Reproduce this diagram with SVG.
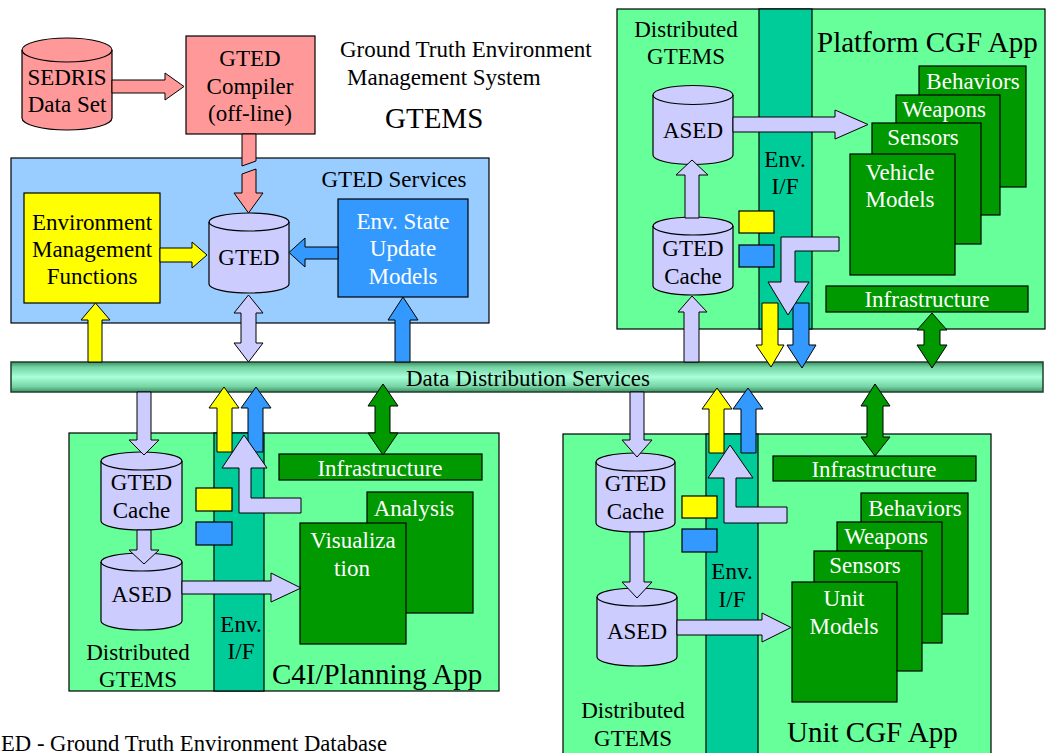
<svg xmlns="http://www.w3.org/2000/svg" width="1047" height="753" viewBox="0 0 1047 753" font-family="Liberation Serif, serif">
<defs>
<style>
.t{font-size:23px;text-anchor:middle;fill:#000}
.w{fill:#fff}
.big{font-size:29px;text-anchor:start}
.st{text-anchor:start}
.s{stroke:#000;stroke-width:1.2}
.pink{fill:#ff9999}
.lblue{fill:#99ccff}
.yel{fill:#ffff00}
.lav{fill:#ccccff}
.blu{fill:#3399ff}
.lgr{fill:#66ff99}
.teal{fill:#00cc99}
.grn{fill:#009900}
.none{fill:none}
</style>
<linearGradient id="barg" x1="0" y1="0" x2="0" y2="1">
<stop offset="0" stop-color="#3f8f65"/>
<stop offset="0.18" stop-color="#74d4a4"/>
<stop offset="0.5" stop-color="#a8ffd8"/>
<stop offset="0.82" stop-color="#74d4a4"/>
<stop offset="1" stop-color="#3f8f65"/>
</linearGradient>
</defs>
<rect x="0" y="0" width="1047" height="753" fill="#fff"/>

<g id="title">
<text class="t st" x="340" y="57">Ground Truth Environment</text>
<text class="t st" x="347" y="85">Management System</text>
<text class="t big" x="385" y="128">GTEMS</text>
</g>
<g id="footnote">
<text class="t st" x="1" y="751" textLength="386" lengthAdjust="spacingAndGlyphs">ED - Ground Truth Environment Database</text>
</g>

<g id="gted-services">
<rect class="lblue s" x="11" y="158" width="478" height="165"/>
<text class="t" x="394" y="187">GTED Services</text>
</g>

<g id="platform-app">
<rect class="lgr s" x="617" y="9" width="428" height="320"/>
<rect class="teal s" x="759" y="9" width="53" height="320"/>
<text class="t" x="686" y="37">Distributed</text>
<text class="t" x="686" y="64">GTEMS</text>
<text class="t" x="785" y="167">Env.</text>
<text class="t" x="785" y="194">I/F</text>
<text class="t big" x="817" y="52">Platform CGF App</text>
</g>

<g id="c4i-app">
<rect class="lgr s" x="69" y="433" width="430" height="258"/>
<rect class="teal s" x="214" y="433" width="50" height="258"/>
<text class="t" x="138" y="660">Distributed</text>
<text class="t" x="138" y="687">GTEMS</text>
<text class="t" x="241" y="632">Env.</text>
<text class="t" x="241" y="659">I/F</text>
<text class="t big" x="272" y="684">C4I/Planning App</text>
</g>

<g id="unit-app">
<rect class="lgr s" x="563" y="434" width="428" height="330"/>
<rect class="teal s" x="706" y="434" width="52" height="330"/>
<text class="t" x="633" y="718">Distributed</text>
<text class="t" x="633" y="746">GTEMS</text>
<text class="t" x="732" y="579">Env.</text>
<text class="t" x="732" y="607">I/F</text>
<text class="t big" x="787" y="742">Unit CGF App</text>
</g>

<g id="dds-bar">
<rect x="11" y="362" width="1032" height="30" fill="url(#barg)" stroke="#1f3f2a" stroke-width="1.5"/>
<text class="t" x="528" y="386">Data Distribution Services</text>
</g>

<g id="sedris">
<path class="pink s" d="M22,50 A45,12 0 0 1 112,50 L112,118 A45,12 0 0 1 22,118 Z"/>
<path class="none s" d="M22,50 A45,12 0 0 0 112,50"/>
<text class="t" x="67" y="85">SEDRIS</text>
<text class="t" x="67" y="112">Data Set</text>
</g>

<g id="gted-compiler">
<rect class="pink s" x="186" y="36" width="129" height="98"/>
<text class="t" x="250" y="66">GTED</text>
<text class="t" x="250" y="94">Compiler</text>
<text class="t" x="250" y="121">(off-line)</text>
</g>

<g id="env-mgmt">
<rect class="yel s" x="24" y="193" width="136" height="110"/>
<text class="t" x="92" y="230">Environment</text>
<text class="t" x="92" y="257">Management</text>
<text class="t" x="92" y="284">Functions</text>
</g>

<g id="gted">
<path class="lav s" d="M209,222 A40,9 0 0 1 289,222 L289,284 A40,9 0 0 1 209,284 Z"/>
<path class="none s" d="M209,222 A40,9 0 0 0 289,222"/>
<text class="t" x="249" y="265">GTED</text>
</g>

<g id="env-state">
<rect class="blu s" x="338" y="199" width="130" height="98"/>
<text class="t w" x="403" y="229">Env. State</text>
<text class="t w" x="403" y="256">Update</text>
<text class="t w" x="403" y="284">Models</text>
</g>

<g id="p-ased">
<path class="lav s" d="M653,95 A40,9.5 0 0 1 733,95 L733,155 A40,9.5 0 0 1 653,155 Z"/>
<path class="none s" d="M653,95 A40,9.5 0 0 0 733,95"/>
<text class="t" x="693" y="138">ASED</text>
</g>
<g id="p-cache">
<path class="lav s" d="M653,226 A40,9 0 0 1 733,226 L733,286 A40,9 0 0 1 653,286 Z"/>
<path class="none s" d="M653,226 A40,9 0 0 0 733,226"/>
<text class="t" x="693" y="256">GTED</text>
<text class="t" x="693" y="284">Cache</text>
</g>
<g id="p-yellow"><rect class="yel s" x="739" y="211" width="35" height="22"/></g>
<g id="p-blue"><rect class="blu s" x="739" y="245" width="35" height="22"/></g>
<g id="p-behaviors">
<rect class="grn s" x="919" y="66" width="107" height="121"/>
<text class="t w" x="973" y="89">Behaviors</text>
</g>
<g id="p-weapons">
<rect class="grn s" x="896" y="95" width="104" height="120"/>
<text class="t w" x="944" y="117">Weapons</text>
</g>
<g id="p-sensors">
<rect class="grn s" x="872" y="123" width="109" height="121"/>
<text class="t w" x="923" y="145">Sensors</text>
</g>
<g id="p-vehicle">
<rect class="grn s" x="850" y="154" width="105" height="121"/>
<text class="t w" x="900" y="180">Vehicle</text>
<text class="t w" x="900" y="207">Models</text>
</g>
<g id="p-infra">
<rect class="grn s" x="826" y="286" width="202" height="26"/>
<text class="t w" x="927" y="307">Infrastructure</text>
</g>

<g id="c-cache">
<path class="lav s" d="M101,461 A40.5,9 0 0 1 182,461 L182,521 A40.5,9 0 0 1 101,521 Z"/>
<path class="none s" d="M101,461 A40.5,9 0 0 0 182,461"/>
<text class="t" x="141.5" y="490">GTED</text>
<text class="t" x="141.5" y="518">Cache</text>
</g>
<g id="c-ased">
<path class="lav s" d="M101,562 A40.5,9 0 0 1 182,562 L182,621 A40.5,9 0 0 1 101,621 Z"/>
<path class="none s" d="M101,562 A40.5,9 0 0 0 182,562"/>
<text class="t" x="141.5" y="602">ASED</text>
</g>
<g id="c-yellow"><rect class="yel s" x="196" y="488" width="36" height="23"/></g>
<g id="c-blue"><rect class="blu s" x="196" y="522" width="36" height="23"/></g>
<g id="c-infra">
<rect class="grn s" x="279" y="454" width="203" height="26"/>
<text class="t w" x="380" y="476">Infrastructure</text>
</g>
<g id="c-analysis">
<rect class="grn s" x="367" y="492" width="106" height="121"/>
<text class="t w" x="414" y="516">Analysis</text>
</g>
<g id="c-visualization">
<rect class="grn s" x="300" y="523" width="106" height="121"/>
<text class="t w" x="353" y="548">Visualiza</text>
<text class="t w" x="352" y="576">tion</text>
</g>

<g id="u-cache">
<path class="lav s" d="M596,462 A39.5,9 0 0 1 675,462 L675,523 A39.5,9 0 0 1 596,523 Z"/>
<path class="none s" d="M596,462 A39.5,9 0 0 0 675,462"/>
<text class="t" x="635.5" y="491">GTED</text>
<text class="t" x="635.5" y="519">Cache</text>
</g>
<g id="u-ased">
<path class="lav s" d="M597,597 A40,9 0 0 1 677,597 L677,657 A40,9 0 0 1 597,657 Z"/>
<path class="none s" d="M597,597 A40,9 0 0 0 677,597"/>
<text class="t" x="637" y="639">ASED</text>
</g>
<g id="u-yellow"><rect class="yel s" x="682" y="496" width="35" height="22"/></g>
<g id="u-blue"><rect class="blu s" x="682" y="529" width="35" height="23"/></g>
<g id="u-infra">
<rect class="grn s" x="773" y="456" width="203" height="25"/>
<text class="t w" x="874" y="477">Infrastructure</text>
</g>
<g id="u-behaviors">
<rect class="grn s" x="861" y="493" width="107" height="121"/>
<text class="t w" x="915" y="516">Behaviors</text>
</g>
<g id="u-weapons">
<rect class="grn s" x="837" y="522" width="105" height="121"/>
<text class="t w" x="886" y="544">Weapons</text>
</g>
<g id="u-sensors">
<rect class="grn s" x="814" y="551" width="108" height="120"/>
<text class="t w" x="865" y="573">Sensors</text>
</g>
<g id="u-unit">
<rect class="grn s" x="792" y="582" width="105" height="120"/>
<text class="t w" x="844" y="606">Unit</text>
<text class="t w" x="844" y="634">Models</text>
</g>

<g id="connectors" stroke="#000" stroke-width="1" stroke-linejoin="miter">
<polygon class="pink" points="112,80 165,80 165,73 184,86.5 165,100 165,93 112,93"/>
<polygon class="pink" points="242,134 256,134 256,161 242,166"/>
<polygon class="pink" points="242,174 256,169 256,193 263,193 248.5,213 234,193 242,193"/>
<polygon class="yel" points="160,248 192,248 192,242 207,255 192,268 192,262 160,262"/>
<polygon class="blu" points="338,247 305,247 305,238 289,252.5 305,267 305,259 338,259"/>
<polygon class="lav" points="248.5,295 263,313 256,313 256,343 263,343 248.5,362 234,343 241,343 241,313 234,313"/>
<polygon class="yel" points="88,362 88,320 81,320 95.5,303 110,320 102,320 102,362"/>
<polygon class="blu" points="395,362 395,320 388,320 403,297 418,320 410,320 410,362"/>

<polygon class="lav" points="684,362 684,312 678,312 692,296 707,312 699,312 699,362"/>
<polygon class="lav" points="685,218 685,175 676,175 692,160 708,175 699,175 699,218"/>
<polygon class="lav" points="733,117 835,117 835,110 868,124.5 835,139 835,132 733,132"/>
<polygon class="yel" points="762,303 778,303 778,345 784,345 771,367 756,345 762,345"/>
<polygon class="blu" points="793,303 809,303 809,345 816,345 802,368 787,345 793,345"/>
<polygon class="lav" points="839,237 839,251 795,251 795,282 809,282 788,315 768,282 781,282 781,237"/>
<polygon class="grn" points="932,313 947,330 940,330 940,345 947,345 932,368 917,345 924,345 924,330 917,330"/>

<polygon class="lav" points="137,392 151,392 151,440 159,440 144,455 129,440 137,440"/>
<polygon class="lav" points="137,530 151,530 151,550 159,550 144,564 129,550 137,550"/>
<polygon class="lav" points="182,581 271,581 271,573 301,588 271,602 271,594 182,594"/>
<polygon class="yel" points="217,452 217,408 209,408 224,387 239,408 232,408 232,452"/>
<polygon class="blu" points="248,452 248,408 241,408 256,387 271,408 263,408 263,452"/>
<polygon class="lav" points="301,498 251,498 251,468 267,468 244,435 222,468 239,468 239,513 301,513"/>
<polygon class="grn" points="383,384 398,406 390,406 390,433 398,433 383,455 368,433 375,433 375,406 368,406"/>

<polygon class="lav" points="630,392 644,392 644,440 652,440 637,457 622,440 630,440"/>
<polygon class="lav" points="630,532 644,532 644,582 652,582 637,598 622,582 630,582"/>
<polygon class="lav" points="677,620 762,620 762,613 791,627.5 762,642 762,635 677,635"/>
<polygon class="yel" points="709,453 709,409 702,409 717,388 732,409 724,409 724,453"/>
<polygon class="blu" points="741,453 741,409 733,409 748,388 763,409 756,409 756,453"/>
<polygon class="lav" points="787,507 736,507 736,478 753,478 730,445 708,478 724,478 724,523 787,523"/>
<polygon class="grn" points="875,384 890,406 883,406 883,437 890,437 875,456 861,437 867,437 867,406 861,406"/>
</g>
</svg>
